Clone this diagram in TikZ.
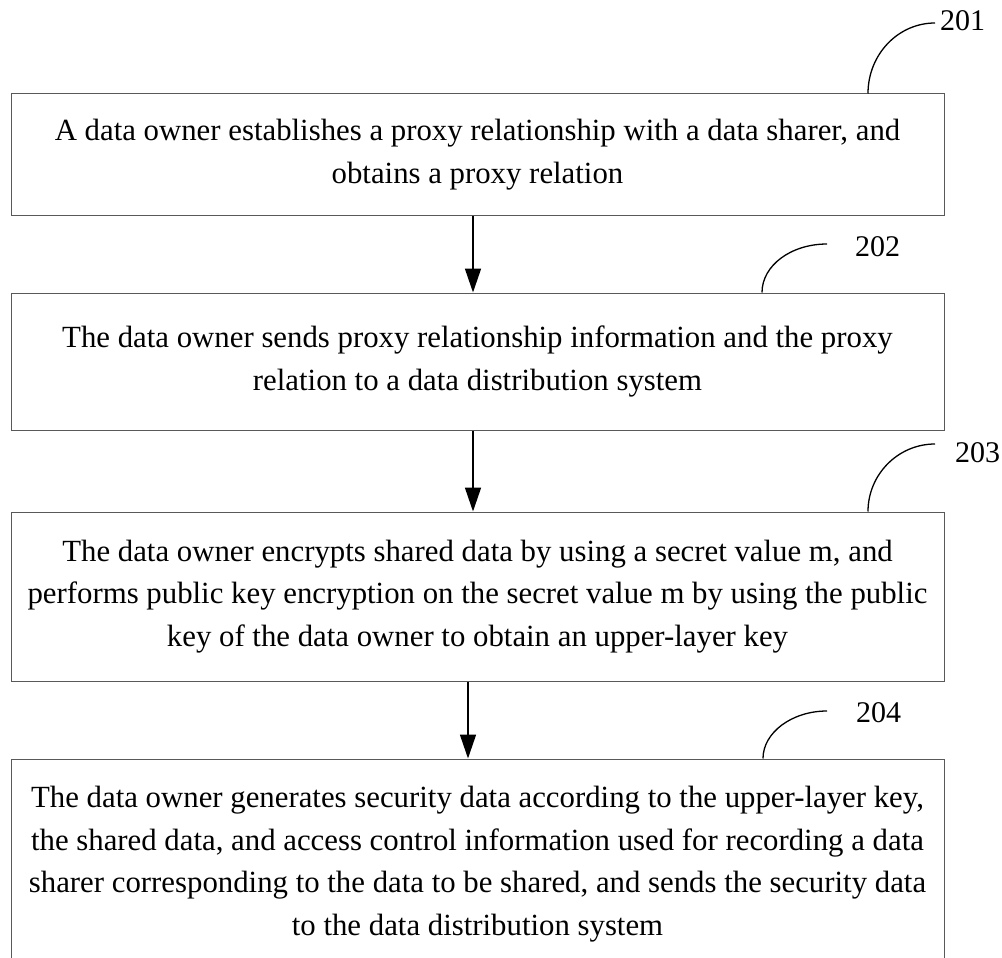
\documentclass[tikz,border=0pt]{standalone}
\usepackage{fontspec}
\setmainfont{Liberation Serif}
\usetikzlibrary{arrows.meta,calc}
\begin{document}
\begin{tikzpicture}[x=1pt,y=-1pt,
  box/.style={draw=black!65, line width=1pt, minimum width=933pt, inner sep=0pt, align=center, font=\fontsize{30.8}{42.5}\selectfont},
  flow/.style={line width=1.6pt, -{Triangle[width=16pt,length=24pt]}},
  lead/.style={line width=1.3pt},
  num/.style={anchor=west, inner sep=0pt, font=\fontsize{30}{36}\selectfont}]
\clip (0,0) rectangle (1002,958);
\node[box, minimum height=121pt] (b1) at (477.5,154.5) {A data owner establishes a proxy relationship with a data sharer, and\\obtains a proxy relation};
\node[box, minimum height=137pt] (b2) at (477.5,361.5) {The data owner sends proxy relationship information and the proxy\\relation to a data distribution system};
\node[box, minimum height=169pt] (b3) at (477.5,596.5) {The data owner encrypts shared data by using a secret value m, and\\performs public key encryption on the secret value m by using the public\\key of the data owner to obtain an upper-layer key};
\node[box, minimum height=210pt] (b4) at (477.5,864) {The data owner generates security data according to the upper-layer key,\\the shared data, and access control information used for recording a data\\sharer corresponding to the data to be shared, and sends the security data\\to the data distribution system};
% arrows
\coordinate (a1) at (473,0);
\coordinate (a3) at (468,0);
\draw[flow] (b1.south -| a1) -- (b2.north -| a1);
\draw[flow] (b2.south -| a1) -- (b3.north -| a1);
\draw[flow] (b3.south -| a3) -- (b4.north -| a3);
% labels
\node[num] (n1) at (940,21) {201};
\node[num] (n2) at (855,247) {202};
\node[num] (n3) at (955,453) {203};
\node[num] (n4) at (856,713) {204};
\coordinate (e1) at (935,23);
\coordinate (e2) at (827,244);
\coordinate (e3) at (935,444);
\coordinate (e4) at (827,711);
\coordinate (s1) at (868,0);
\coordinate (s2) at (762,0);
\coordinate (s4) at (763,0);
\draw[lead] (b1.north -| s1) .. controls +(0,-39) and +(-37,0) .. (e1);
\draw[lead] (b2.north -| s2) .. controls +(0,-27) and +(-36,0) .. (e2);
\draw[lead] (b3.north -| s1) .. controls +(0,-37) and +(-37,0) .. (e3);
\draw[lead] (b4.north -| s4) .. controls +(0,-26) and +(-35,0) .. (e4);
\end{tikzpicture}
\end{document}
